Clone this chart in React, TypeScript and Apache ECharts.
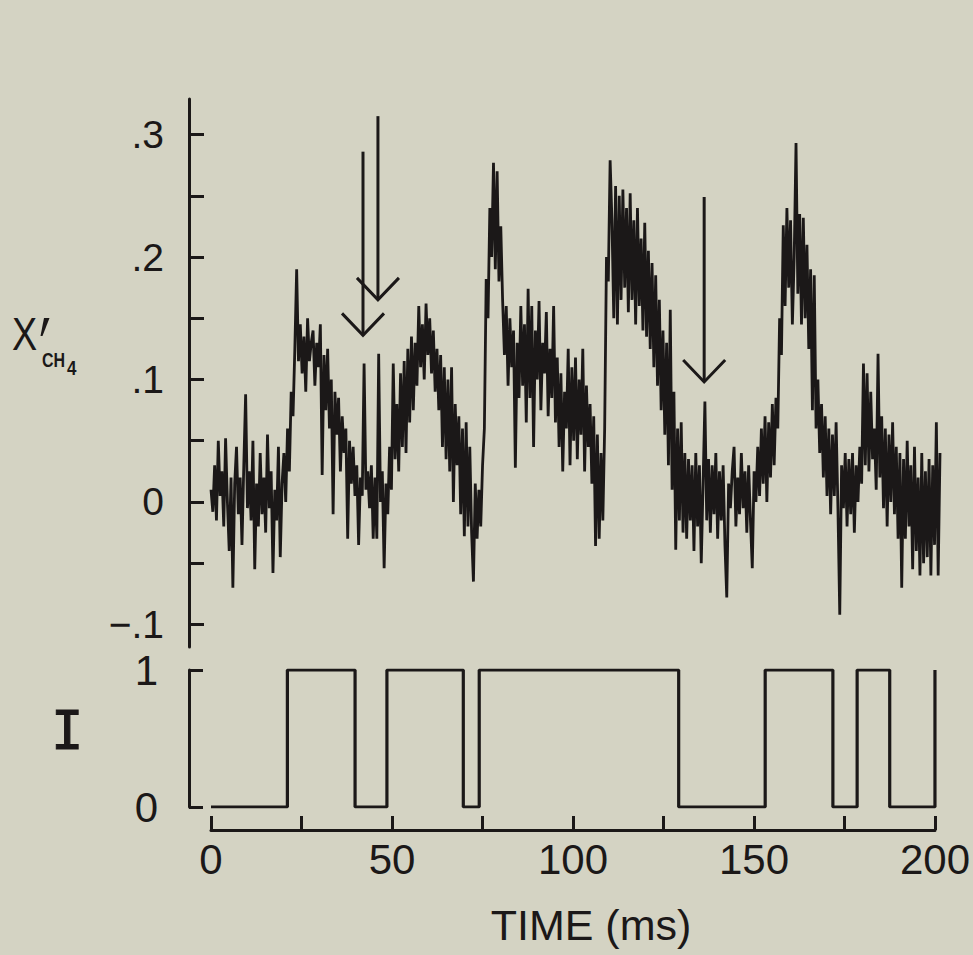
import React, { useEffect, useRef } from "react";
import * as echarts from "echarts";

// Sampling step of the concentration trace (ms)
const TIME_STEP_MS = 0.5;
// X'CH4 fluctuation, in thousandths (x 10^-3), one value every 0.5 ms from 0 to 200 ms
const CH4_MILLI: number[] = [
  // 0-4.5
  10, -8, 30, -15, 50, 5, 25, -20, 52, 0,
  // 5-9.5
  -40, 20, -70, 15, 45, -10, 20, -35, 30, 88,
  // 10-14.5
  -5, 25, -15, 50, -55, 15, -20, 40, -10, 20,
  // 15-19.5
  -25, 55, -5, 25, -58, 10, -15, 45, -45, 15,
  // 20-24.5
  40, 0, 60, 25, 90, 70, 125, 190, 115, 145,
  // 25-29.5
  105, 135, 90, 150, 115, 130, 140, 95, 130, 110,
  // 30-34.5
  145, 22, 120, 75, 125, 60, 100, -10, 90, 55,
  // 35-39.5
  85, 25, 70, 40, 60, -30, 50, 15, 45, 5,
  // 40-44.5
  30, -35, 20, 5, 113, 10, 25, -5, 30, -30,
  // 45-49.5
  20, -30, 121, 0, 25, -54, 15, -10, 45, 10,
  // 50-54.5
  113, 35, 80, 25, 105, 45, 115, 40, 125, 65,
  // 55-59.5
  135, 75, 130, 95, 160, 110, 145, 100, 162, 120,
  // 60-64.5
  150, 105, 140, 90, 125, 75, 120, 45, 110, 35,
  // 65-69.5
  100, 25, 110, 0, 80, 30, 70, -10, 60, -28,
  // 70-74.5
  65, -20, 45, -25, -65, 15, -30, 10, -20, 30,
  // 75-79.5
  60, 182, 150, 240, 200, 277, 190, 270, 180, 225,
  // 80-84.5
  165, 120, 160, 95, 150, 110, 140, 28, 130, 85,
  // 85-89.5
  160, 95, 145, 65, 174, 85, 160, 45, 140, 100,
  // 90-94.5
  164, 75, 130, 105, 155, 70, 125, 85, 160, 65,
  // 95-99.5
  118, 45, 105, 25, 90, 60, 125, 30, 110, 50,
  // 100-104.5
  118, 35, 100, 55, 125, 25, 95, 45, 80, 15,
  // 105-109.5
  70, -36, 55, -30, 40, -15, 60, 200, 180, 279,
  // 110-114.5
  230, 150, 258, 145, 250, 165, 255, 175, 240, 155,
  // 115-119.5
  252, 165, 230, 145, 240, 160, 215, 140, 228, 135,
  // 120-124.5
  205, 125, 195, 110, 185, 95, 165, 75, 140, 55,
  // 125-129.5
  130, 30, 157, 10, 90, -39, 60, -15, 65, -25,
  // 130-134.5
  40, -30, 35, -15, 30, -40, 40, -20, 30, -50,
  // 135-139.5
  15, 82, -15, 35, -25, 30, -10, 40, -30, 25,
  // 140-144.5
  -15, 30, -35, -78, 15, -5, 25, 45, -20, 20,
  // 145-149.5
  -10, 40, -5, 25, -25, 30, -15, -54, 25, 0,
  // 150-154.5
  45, 5, 60, 15, 70, 0, 65, 20, 80, 30,
  // 155-159.5
  85, 60, 150, 120, 226, 160, 240, 175, 230, 145,
  // 160-164.5
  200, 293, 170, 235, 145, 232, 150, 210, 125, 190,
  // 165-169.5
  75, 185, 60, 100, 40, 80, 20, 70, 5, 60,
  // 170-174.5
  -10, 55, 5, 65, -5, -92, 30, -5, 40, -20,
  // 175-179.5
  35, -10, 40, -25, 30, 0, 45, 15, 113, 30,
  // 180-184.5
  105, 25, 90, 35, 60, 10, 121, 20, 70, -5,
  // 185-189.5
  60, -20, 55, 0, 65, -10, 45, -30, 40, -70,
  // 190-194.5
  35, -30, 50, -20, 30, -55, 45, -40, 20, -60,
  // 195-199.5
  40, -50, 25, -45, 35, -60, 30, -35, 65, -60,
  // 200
  40,
];

// Intermittency function I: switching times (ms) and the level reached at each time
const I_SWITCH_TIMES = [0, 21.1, 39.8, 48.6, 69.7, 74.1, 129.2, 153.1, 171.8, 178.5, 187.5, 200];
const I_LEVELS = [0, 1, 0, 1, 0, 1, 0, 1, 0, 1, 0, 1];

// Arrows: time (ms), X' at tail, X' at head
const ARROWS: number[][] = [
  [41.7, 0.286, 0.136],
  [45.8, 0.315, 0.165],
  [135.3, 0.249, 0.098],
];

// Axis ticks / labels
const TIME_TICKS = [0, 25, 50, 75, 100, 125, 150, 175, 200];
const TIME_LABELS = [0, 50, 100, 150, 200];
const X_TICKS = [-0.1, -0.05, 0, 0.05, 0.1, 0.15, 0.2, 0.25, 0.3];
const X_LABELS = [-0.1, 0, 0.1, 0.2, 0.3];
const I_TICKS = [0, 1];

const INK = "#1b1818";
const BG = "#d4d3c3";
const FONT = "Liberation Sans";

export default function App() {
  const ref = useRef<HTMLDivElement>(null);

  useEffect(() => {
    if (!ref.current) return;
    const chart = echarts.init(ref.current, undefined, { renderer: "svg" });

    const trace = CH4_MILLI.map((v, i) => [i * TIME_STEP_MS, v / 1000]);
    const steps = I_SWITCH_TIMES.map((t, i) => [t, I_LEVELS[i]]);

    const fmtX = (v: number) => {
      const k = Math.round(v * 10);
      if (k === 0) return "0";
      return k < 0 ? "\u2212." + -k : "." + k;
    };

    const option: any = {
      animation: false,
      backgroundColor: BG,
      textStyle: { fontFamily: FONT, color: INK },
      grid: [
        { left: 211, right: 33, top: 99, height: 548 },
        { left: 211, right: 33, top: 670, height: 137 },
      ],
      xAxis: [
        { gridIndex: 0, type: "value", min: 0, max: 200, show: false },
        {
          gridIndex: 1,
          type: "value",
          min: 0,
          max: 200,
          offset: 23,
          axisLine: { show: true, onZero: false, lineStyle: { color: INK, width: 3 } },
          axisTick: { show: true, inside: true, length: 14, customValues: TIME_TICKS, lineStyle: { color: INK, width: 3 } },
          axisLabel: { customValues: TIME_LABELS, fontSize: 42, margin: 8, color: INK, fontFamily: FONT },
          splitLine: { show: false },
          name: "TIME (ms)",
          nameLocation: "middle",
          nameGap: 73,
          nameTextStyle: { fontSize: 43, color: INK, fontFamily: FONT, padding: [0, 0, 0, 36] },
        },
      ],
      yAxis: [
        {
          gridIndex: 0,
          type: "value",
          min: -0.1184,
          max: 0.329,
          offset: 22,
          axisLine: { show: true, onZero: false, lineStyle: { color: INK, width: 3 } },
          axisTick: { show: true, inside: true, length: 15, customValues: X_TICKS, lineStyle: { color: INK, width: 3 } },
          axisLabel: { customValues: X_LABELS, formatter: fmtX, fontSize: 39, margin: 25, color: INK, fontFamily: FONT },
          splitLine: { show: false },
        },
        {
          gridIndex: 1,
          type: "value",
          min: 0,
          max: 1,
          offset: 22,
          axisLine: { show: true, onZero: false, lineStyle: { color: INK, width: 3 } },
          axisTick: { show: true, inside: true, length: 14, customValues: I_TICKS, lineStyle: { color: INK, width: 3 } },
          axisLabel: { customValues: I_TICKS, fontSize: 42, margin: 31, color: INK, fontFamily: FONT },
          splitLine: { show: false },
        },
      ],
      graphic: [
        { type: "text", x: 12, y: 311, scaleX: 0.82, style: { text: "X", font: `46px "${FONT}"`, fill: INK, textVerticalAlign: "top" } },
        { type: "polygon", shape: { points: [[44, 318], [49.5, 318], [42.5, 336], [40.5, 336]] }, style: { fill: INK } },
        { type: "text", x: 42, y: 350, scaleX: 0.8, style: { text: "CH", font: `bold 20px "${FONT}"`, fill: INK, textVerticalAlign: "top" } },
        { type: "text", x: 67, y: 358, scaleX: 0.85, style: { text: "4", font: `bold 20px "${FONT}"`, fill: INK, textVerticalAlign: "top" } },
        { type: "text", x: 51, y: 703, style: { text: "I", font: `54px "DejaVu Sans Mono"`, fill: INK, stroke: INK, lineWidth: 1, textVerticalAlign: "top" } },
      ],
      series: [
        {
          name: "X'CH4",
          type: "line",
          xAxisIndex: 0,
          yAxisIndex: 0,
          data: trace,
          showSymbol: false,
          symbol: "none",
          lineStyle: { color: INK, width: 2.8 },
          z: 2,
        },
        {
          name: "arrows",
          type: "custom",
          xAxisIndex: 0,
          yAxisIndex: 0,
          data: ARROWS,
          encode: { x: 0, y: [1, 2] },
          clip: false,
          z: 3,
          renderItem: (params: any, api: any) => {
            const t = api.value(0);
            const p1 = api.coord([t, api.value(1)]);
            const p2 = api.coord([t, api.value(2)]);
            const st = { stroke: INK, lineWidth: 3, fill: "none" };
            return {
              type: "group",
              children: [
                { type: "line", shape: { x1: p1[0], y1: p1[1], x2: p2[0], y2: p2[1] }, style: st },
                {
                  type: "polyline",
                  shape: { points: [[p2[0] - 21, p2[1] - 22], [p2[0], p2[1]], [p2[0] + 21, p2[1] - 22]] },
                  style: st,
                },
              ],
            };
          },
        },
        {
          name: "I",
          type: "line",
          xAxisIndex: 1,
          yAxisIndex: 1,
          data: steps,
          step: "end",
          showSymbol: false,
          symbol: "none",
          lineStyle: { color: INK, width: 3.2 },
        },
      ],
    };

    chart.setOption(option);
    return () => chart.dispose();
  }, []);

  return (
    <div
      ref={ref}
      style={{ position: "fixed", left: 0, top: 0, width: 973, height: 955 }}
    />
  );
}
